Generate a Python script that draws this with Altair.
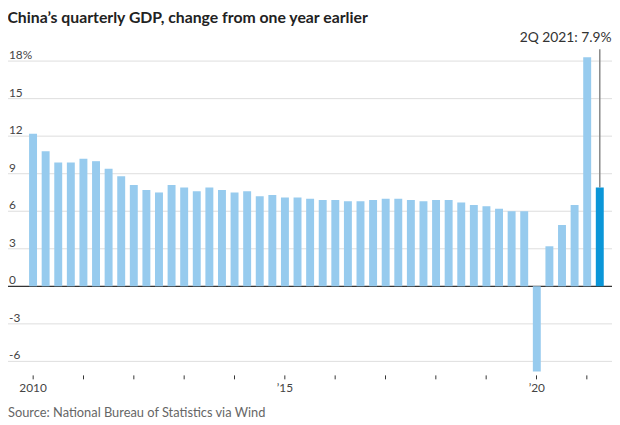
import altair as alt
import pandas as pd

years = list(range(2010, 2022))
quarters = ["Q1", "Q2", "Q3", "Q4"]
gdp_growth = [
    12.2, 10.8, 9.9, 9.9,
    10.2, 10.0, 9.4, 8.8,
    8.1, 7.7, 7.5, 8.1,
    7.9, 7.6, 7.9, 7.7,
    7.5, 7.6, 7.2, 7.3,
    7.1, 7.1, 7.0, 6.9,
    6.9, 6.8, 6.8, 6.9,
    7.0, 7.0, 6.9, 6.8,
    6.9, 6.9, 6.7, 6.5,
    6.4, 6.2, 6.0, 6.0,
    -6.8, 3.2, 4.9, 6.5,
    18.3, 7.9,
]
grid_values = [-6, -3, 3, 6, 9, 12, 15, 18]
y_tick_values = [-6, -3, 0, 3, 6, 9, 12, 15, 18]
y_tick_labels = ["-6", "-3", "0", "3", "6", "9", "12", "15", "18%"]
year_labels = {"2010Q1": "2010", "2015Q1": "\u201915", "2020Q1": "\u201920"}
title_text = "China\u2019s quarterly GDP, change from one year earlier"
source_text = "Source: National Bureau of Statistics via Wind"
annotation_text = "2Q 2021: 7.9%"

qlabels = [f"{y}{q}" for y in years for q in quarters][: len(gdp_growth)]
df = pd.DataFrame({"q": qlabels, "v": gdp_growth})
df["hl"] = df["q"] == qlabels[-1]
last = df.tail(1).copy()
last["label"] = annotation_text

W, H = 587, 336
LEFT = 19
FONT = "Lato"

yscale = alt.Scale(domain=[-7, 19.5], nice=False, zero=False)
xscale = alt.Scale(domain=qlabels, paddingInner=0.37, paddingOuter=0.185)

label_expr = " : ".join(
    [f"datum.value == '{k}' ? '{v}'" for k, v in year_labels.items()]
) + " : ''"

grid = alt.Chart(pd.DataFrame({"g": grid_values})).mark_rule(
    color="#dddddd", strokeWidth=1
).encode(
    y=alt.Y("g:Q", scale=yscale, axis=None),
    x=alt.value(-LEFT),
    x2=alt.value(W + 6),
)

zero = alt.Chart(pd.DataFrame({"g": [0]})).mark_rule(
    color="#333333", strokeWidth=1.2
).encode(
    y=alt.Y("g:Q", scale=yscale, axis=None),
    x=alt.value(-LEFT),
    x2=alt.value(W + 6),
)

ylabels = alt.Chart(
    pd.DataFrame({"g": y_tick_values, "t": y_tick_labels})
).mark_text(
    align="left", baseline="alphabetic", dy=-2, fontSize=12, font=FONT, color="#444444"
).encode(
    y=alt.Y("g:Q", scale=yscale, axis=None),
    x=alt.value(-LEFT + 1),
    text="t:N",
)

bars = alt.Chart(df).mark_bar().encode(
    x=alt.X(
        "q:N",
        scale=xscale,
        title=None,
        axis=alt.Axis(
            values=[f"{y}Q1" for y in years],
            labelExpr=label_expr,
            labelAngle=0,
            domain=False,
            grid=False,
            ticks=True,
            tickSize=4,
            tickColor="#333333",
            offset=1,
            labelPadding=4,
            labelFont=FONT,
            labelFontSize=12,
            labelColor="#444444",
        ),
    ),
    y=alt.Y("v:Q", scale=yscale, axis=None),
    color=alt.condition(
        alt.datum.hl, alt.value("#0a96d8"), alt.value("#97cbee")
    ),
)

ann_rule = alt.Chart(last).mark_rule(color="#888888", strokeWidth=1.5).encode(
    x=alt.X("q:N", scale=xscale),
    y=alt.Y("v:Q", scale=yscale, axis=None),
    y2=alt.value(7),
)

ann_text = alt.Chart(last).mark_text(
    align="right", baseline="middle", dx=12, fontSize=14, font=FONT, color="#333333"
).encode(
    x=alt.X("q:N", scale=xscale),
    y=alt.value(-4),
    text="label:N",
)

source = alt.Chart(pd.DataFrame({"t": [source_text]})).mark_text(
    align="left", baseline="alphabetic", fontSize=13, font=FONT, color="#666666"
).encode(
    x=alt.value(-LEFT),
    y=alt.value(380),
    text="t:N",
)

chart = alt.layer(grid, zero, ylabels, bars, ann_rule, ann_text, source).properties(
    width=W,
    height=H,
    autosize=alt.AutoSizeParams(type="none"),
    padding={"left": LEFT, "top": 32, "right": 6, "bottom": 49},
    title=alt.TitleParams(
        title_text,
        anchor="start",
        frame="bounds",
        dx=0,
        offset=6,
        fontSize=16,
        fontWeight="bold",
        font=FONT,
        color="#222222",
    ),
).configure_view(stroke=None)

chart.save("out.html", embed_options={"renderer": "svg", "actions": False})
